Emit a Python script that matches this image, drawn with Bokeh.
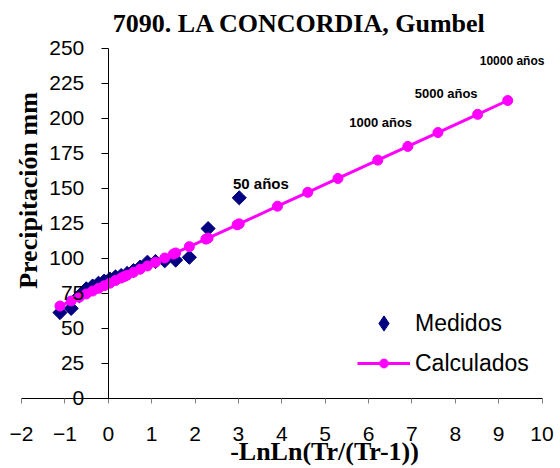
import math
from bokeh.plotting import figure
from bokeh.models import Range1d, Label, Legend, LegendItem, FixedTicker
from bokeh.embed import file_html
from bokeh.resources import INLINE

# ---- data ----
title_text = "7090. LA CONCORDIA, Gumbel"
x_title = "-LnLn(Tr/(Tr-1))"
y_title = "Precipitación mm"

x_ticks = [-2, -1, 0, 1, 2, 3, 4, 5, 6, 7, 8, 9, 10]
y_ticks = [0, 25, 50, 75, 100, 125, 150, 175, 200, 225, 250]

# measured (Medidos): plotting position -LnLn(Tr/(Tr-1)) and precipitation
x_med = [3.020, 2.302, 1.870, 1.554, 1.302, 1.089, 0.903, 0.735, 0.581, 0.436,
         0.298, 0.166, 0.036, -0.094, -0.225, -0.361, -0.506, -0.666, -0.855, -1.113]
y_med = [143, 121, 100.5, 98.5, 98, 97.5, 97, 93.5, 91, 89,
         87.5, 86.5, 85, 83.5, 82, 80, 78, 73, 64, 61]

# calculated (Calculados)
x_calc = [-1.113, -0.855, -0.666, -0.506, -0.361, -0.225, -0.094, 0.036, 0.166, 0.298,
          0.367, 0.436, 0.581, 0.735, 0.903, 1.089, 1.302, 1.500, 1.554, 1.870,
          2.250, 2.302, 2.970, 3.020, 3.902, 4.600, 5.296, 6.214, 6.907, 7.601,
          8.517, 9.210]
y_calc = [65.7, 69.3, 72.0, 74.3, 76.4, 78.3, 80.2, 82.0, 83.9, 85.7,
          86.7, 87.7, 89.8, 92.0, 94.3, 97.0, 100.0, 102.8, 103.6, 108.1,
          113.5, 114.2, 123.7, 124.4, 137.0, 146.9, 156.8, 169.9, 179.7, 189.6,
          202.6, 212.5]

# return-period annotations
ann_text = ["50 años", "1000 años", "5000 años", "10000 años"]
ann_x = [3.52, 6.28, 7.79, 9.31]
ann_y = [153.0, 197.0, 217.7, 240.6]
ann_size = ["15px", "13px", "13px", "12px"]

# ---- layout: the frame covers the whole canvas, axes cross at (0, 0) ----
W, H = 560, 468
PX_X = 43.375          # pixels per x unit
PX_Y = 1.4             # pixels per y unit
X0_PX, Y0_PX = 107.75, 397.5   # pixel position of data (0, 0)

p = figure(width=W, height=H,
           x_range=Range1d(-X0_PX / PX_X, (W - X0_PX) / PX_X),
           y_range=Range1d(-(H - Y0_PX) / PX_Y, Y0_PX / PX_Y),
           output_backend="svg", toolbar_location=None, title=None,
           min_border=0, min_border_left=0, min_border_right=0,
           min_border_top=0, min_border_bottom=0)
p.outline_line_color = None
p.grid.visible = False
p.background_fill_color = "white"
p.border_fill_color = "white"

xa = p.xaxis[0]
xa.ticker = FixedTicker(ticks=x_ticks)
xa.fixed_location = 0
xa.bounds = (-2, 10)
xa.axis_line_color = "black"
xa.major_tick_line_color = "#808080"
xa.major_tick_out = 5
xa.major_tick_in = 0
xa.minor_tick_line_color = None
xa.major_label_text_font = "Liberation Sans"
xa.major_label_text_font_size = "21px"
xa.major_label_text_color = "black"
xa.major_label_standoff = 24

ya = p.yaxis[0]
ya.ticker = FixedTicker(ticks=y_ticks)
ya.fixed_location = 0
ya.bounds = (0, 250)
ya.axis_line_color = "black"
ya.major_tick_line_color = "black"
ya.major_tick_out = 7
ya.major_tick_in = 0
ya.minor_tick_line_color = None
ya.major_label_text_font = "Liberation Sans"
ya.major_label_text_font_size = "21px"
ya.major_label_text_color = "black"
ya.major_label_standoff = 17

# legend key for the measured series: a diamond drawn under the (rotated-square) markers
r_med_key = p.scatter(x_med, y_med, marker="diamond", size=9,
                      fill_color="#000080", line_color="#000080")
r_med = p.scatter(x_med, y_med, marker="square", angle=math.pi / 4, size=10,
                  fill_color="#000080", line_color="#000080")
r_line = p.line(x_calc, y_calc, line_color="#FF00FF", line_width=3)
r_calc = p.scatter(x_calc, y_calc, marker="circle", size=10,
                   fill_color="#FF00FF", line_color="#FF00FF")

common = dict(padding=0, margin=0, spacing=0, glyph_width=53, label_standoff=5,
              label_text_font="Liberation Sans", label_text_font_size="23px",
              label_text_color="black", border_line_color=None,
              background_fill_alpha=0)
legend_med = Legend(items=[LegendItem(label="Medidos", renderers=[r_med_key])],
                    location=(357, 126), glyph_height=38, label_height=38, **common)
legend_calc = Legend(items=[LegendItem(label="Calculados", renderers=[r_line, r_calc])],
                     location=(357, 91), glyph_height=22, label_height=28, **common)
p.add_layout(legend_med)
p.add_layout(legend_calc)

for t, x, y, s in zip(ann_text, ann_x, ann_y, ann_size):
    p.add_layout(Label(x=x, y=y, text=t, text_font="Liberation Sans",
                       text_font_style="bold", text_font_size=s,
                       text_align="center", text_baseline="middle", text_color="black"))

p.add_layout(Label(x=4.409, y=267.5, text=title_text, text_font="Liberation Serif",
                   text_font_style="bold", text_font_size="26px",
                   text_align="center", text_baseline="middle", text_color="black"))
p.add_layout(Label(x=4.986, y=-38.2, text=x_title, text_font="Liberation Serif",
                   text_font_style="bold", text_font_size="26px",
                   text_align="center", text_baseline="middle", text_color="black"))
p.add_layout(Label(x=-1.839, y=148.2, text=y_title, angle=math.pi / 2,
                   text_font="Liberation Serif",
                   text_font_style="bold", text_font_size="26px",
                   text_align="center", text_baseline="middle", text_color="black"))

open("out.html", "w").write(file_html(p, INLINE))
